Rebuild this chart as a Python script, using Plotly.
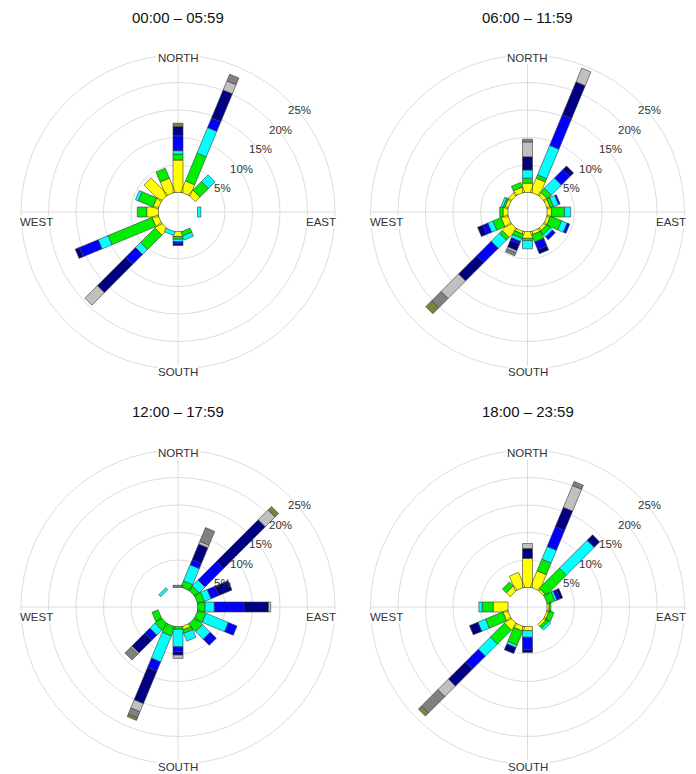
import math
import plotly.graph_objects as go

# The page adds an 8 px body margin, so the figure is drawn 8 px smaller
# and all reference pixel positions are shifted by that margin.
PAGE_MARGIN = 8
W, H = 696 - PAGE_MARGIN, 774 - PAGE_MARGIN

directions = ['N', 'NNE', 'NE', 'ENE', 'E', 'ESE', 'SE', 'SSE',
              'S', 'SSW', 'SW', 'WSW', 'W', 'WNW', 'NW', 'NNW']
dir_angles = [i * 22.5 for i in range(16)]

speed_colors = ['#FFFF00', '#00EE00', '#00FFFF', '#0000FF',
                '#000080', '#C0C0C0', '#808080', '#808040']

titles = ['00:00 \u2013 05:59', '06:00 \u2013 11:59',
          '12:00 \u2013 17:59', '18:00 \u2013 23:59']

ring_values = [5, 10, 15, 20, 25]
ring_labels = ['5%', '10%', '15%', '20%', '25%']

# frequency (%) per direction (rows, N clockwise) and speed bin (columns)
freq_00_06 = [
    [5.9, 1.1, 0.6, 2.7, 1.7, 0.0, 0.0, 0.6],
    [2.2, 5.5, 5.0, 1.9, 5.5, 1.8, 1.3, 0.0],
    [1.2, 2.2, 1.7, 0, 0, 0, 0, 0],
    [0, 0, 0, 0, 0, 0, 0, 0],
    [0, 0, 0.6, 0, 0, 0, 0, 0],
    [0, 0, 0, 0, 0, 0, 0, 0],
    [0, 0, 0, 0, 0, 0, 0, 0],
    [0, 0.8, 0.8, 0, 0, 0, 0, 0],
    [0.9, 0.5, 0.45, 0.4, 0.3, 0, 0, 0],
    [0, 0, 0.7, 0, 0, 0, 0, 0],
    [1.5, 3.7, 1.3, 2.5, 7.3, 3.2, 0, 0],
    [1.2, 8.65, 1.95, 3.7, 0.8, 0, 0, 0],
    [2.15, 1.7, 0, 0, 0, 0, 0, 0],
    [1.0, 2.9, 0.55, 0, 0, 0, 0, 0],
    [4.3, 0, 0, 0, 0, 0, 0, 0],
    [2.75, 1.95, 0, 0, 0, 0, 0, 0],
]

freq_06_12 = [
    [1.7, 0.9, 1.5, 0, 2.4, 2.7, 0.5, 0],
    [2.75, 0.65, 5.8, 6.0, 6.5, 2.7, 0, 0],
    [0.7, 1.0, 2.6, 2.1, 1.0, 0, 0, 0],
    [0.6, 0.6, 1.0, 0.3, 0, 0, 0, 0],
    [0.8, 2.4, 1.1, 0, 0, 0, 0, 0],
    [0.6, 2.2, 1.1, 0.5, 0, 0, 0, 0],
    [0.6, 0.8, 0.6, 0.7, 0, 0, 0, 0],
    [0.6, 1.4, 0, 1.5, 0.8, 0, 0, 0],
    [1.25, 0.4, 1.5, 0, 0, 0, 0, 0],
    [0.5, 0.8, 0.6, 0.5, 1.3, 0.4, 0.6, 0],
    [2.1, 0.7, 2.1, 3.7, 4.7, 4.5, 2.4, 1.5],
    [1.3, 1.6, 1.0, 1.0, 1.0, 0, 0, 0],
    [0.9, 0.6, 0, 0, 0, 0, 0, 0],
    [0.6, 0.3, 0.4, 0, 0, 0, 0, 0],
    [0.7, 0, 0, 0, 0, 0, 0, 0],
    [1.0, 0.9, 0, 0, 0, 0, 0, 0],
]

freq_12_18 = [
    [0, 0, 0, 0, 0, 0, 0.4, 0],
    [0, 1.25, 3.15, 1.0, 3.1, 0.5, 2.7, 0],
    [0, 1.0, 1.5, 4.75, 10.75, 2.5, 0, 0.9],
    [0, 1.3, 1.3, 1.5, 2.6, 0, 0, 0],
    [0, 1.36, 1.7, 5.4, 4.45, 0.4, 0, 0],
    [0, 1.6, 4.4, 1.7, 0, 0, 0, 0],
    [0, 1.9, 1.95, 1.55, 0, 0, 0, 0],
    [0.65, 0.65, 1.5, 0, 0, 0, 0, 0],
    [0, 0.5, 3.2, 0.9, 0.6, 0.6, 0, 0],
    [0, 1.8, 5.1, 1.8, 6.4, 1.6, 1.2, 0.5],
    [0, 1.5, 1.3, 1.3, 3.3, 0.3, 1.5, 0],
    [0, 1.2, 0, 0, 0, 0, 0, 0],
    [0, 0, 0, 0, 0, 0, 0, 0],
    [0, 0, 0, 0, 0, 0, 0, 0],
    [0, 0, 0.5, 0, 0, 0, 0, 0],
    [0, 0, 0, 0, 0, 0, 0, 0],
]

freq_18_24 = [
    [5.3, 0, 0, 0, 1.8, 0.9, 0, 0],
    [3.2, 2.3, 2.5, 3.9, 3.8, 4.3, 0.8, 0],
    [0.4, 5.15, 7.15, 0, 1.4, 0, 0, 0],
    [0, 1.5, 0.4, 0.55, 0.55, 0, 0, 0],
    [0.4, 0.3, 0, 0, 0, 0, 0, 0],
    [0.4, 0.9, 0, 0, 0, 0, 0, 0],
    [0.5, 0.5, 0.5, 0, 0, 0, 0, 0],
    [0, 0, 0, 0, 0, 0, 0, 0],
    [0.76, 0, 1.2, 2.2, 0.55, 0, 0, 0],
    [0.85, 2.75, 0.5, 0, 1.15, 0, 0, 0],
    [1.5, 3.6, 3.1, 3.3, 4.4, 2.7, 4.2, 0.8],
    [0.95, 3.4, 1.5, 0, 1.65, 0, 0, 0],
    [2.7, 2.0, 0.6, 0, 0, 0, 0, 0],
    [0, 0, 0, 0, 0, 0, 0, 0],
    [1.0, 1.0, 0, 0, 0, 0, 0, 0],
    [2.9, 0, 0, 0, 0, 0, 0, 0],
]

panels = [freq_00_06, freq_06_12, freq_12_18, freq_18_24]

# ---- geometry (pixels, page coordinates of the reference) ----
centers_page = [(178, 212), (527.5, 212), (178, 607), (527.5, 607)]
title_top_page = [8, 8, 402, 402]
centers = [(cx - PAGE_MARGIN, cy - PAGE_MARGIN) for cx, cy in centers_page]
title_top = [max(0, t - PAGE_MARGIN) for t in title_top_page]

PX = 5.5            # pixels per percent
HOLE = 19.5         # radius of the empty centre
BAR_HALF_W = 5.0    # half of bar width
R_OUT = HOLE + PX * ring_values[-1]


def rad(v):
    return HOLE + PX * v


fig = go.Figure()
shapes = []
annotations = []
FONT = 'Arial, Liberation Sans, Helvetica, sans-serif'
GRID = '#DCDCDC'

for p, (table, (cx, cy)) in enumerate(zip(panels, centers)):
    k = p + 1
    xa = 'x' if k == 1 else f'x{k}'
    ya = 'y' if k == 1 else f'y{k}'
    xkey = 'xaxis' if k == 1 else f'xaxis{k}'
    ykey = 'yaxis' if k == 1 else f'yaxis{k}'
    hx = min(cx, W - cx, 170)
    hy = min(cy, H - cy, 170)
    fig.layout[xkey] = dict(domain=[(cx - hx) / W, (cx + hx) / W],
                            range=[-hx, hx], visible=False,
                            fixedrange=True, anchor=ya)
    fig.layout[ykey] = dict(domain=[1 - (cy + hy) / H, 1 - (cy - hy) / H],
                            range=[-hy, hy], visible=False,
                            fixedrange=True, anchor=xa)

    # grid rings
    for v in ring_values:
        r = rad(v)
        shapes.append(dict(type='circle', xref=xa, yref=ya, x0=-r, y0=-r,
                           x1=r, y1=r, line=dict(color=GRID, width=1),
                           layer='below'))
    # cross lines
    shapes.append(dict(type='line', xref=xa, yref=ya, x0=0, y0=-R_OUT,
                       x1=0, y1=R_OUT, line=dict(color=GRID, width=1),
                       layer='below'))
    shapes.append(dict(type='line', xref=xa, yref=ya, x0=-R_OUT, y0=0,
                       x1=R_OUT, y1=0, line=dict(color=GRID, width=1),
                       layer='below'))

    # stacked rectangular bars
    for b, color in enumerate(speed_colors):
        xs, ys = [], []
        for d, ang in enumerate(dir_angles):
            row = table[d]
            val = row[b]
            if val <= 0:
                continue
            base = sum(row[:b])
            r0, r1 = rad(base), rad(base + val)
            t = math.radians(ang)
            ux, uy = math.sin(t), math.cos(t)
            nx, ny = math.cos(t), -math.sin(t)
            hw = BAR_HALF_W
            pts = [(r0 * ux + hw * nx, r0 * uy + hw * ny),
                   (r1 * ux + hw * nx, r1 * uy + hw * ny),
                   (r1 * ux - hw * nx, r1 * uy - hw * ny),
                   (r0 * ux - hw * nx, r0 * uy - hw * ny),
                   (r0 * ux + hw * nx, r0 * uy + hw * ny)]
            for px_, py_ in pts:
                xs.append(px_)
                ys.append(py_)
            xs.append(None)
            ys.append(None)
        if xs:
            fig.add_trace(go.Scatter(x=xs, y=ys, xaxis=xa, yaxis=ya,
                                     mode='lines', fill='toself',
                                     fillcolor=color,
                                     line=dict(color='#3a3a3a', width=0.6),
                                     hoverinfo='skip', showlegend=False,
                                     cliponaxis=False))

    # ring labels
    c45 = math.cos(math.radians(45))
    for v, lab in zip(ring_values, ring_labels):
        r = rad(v)
        annotations.append(dict(xref=xa, yref=ya, x=r * c45 + 10.8,
                                y=r * c45 - 9.3, text=lab, showarrow=False,
                                font=dict(family=FONT, size=11.5, color='#333333'),
                                xanchor='center', yanchor='middle'))

    # compass labels
    comp = [('NORTH', 0, 154, 'center'), ('SOUTH', 0, -160, 'center'),
            ('WEST', -R_OUT - 2, -10, 'left'), ('EAST', R_OUT + 2, -10, 'right')]
    for txt, x, y, anc in comp:
        annotations.append(dict(xref=xa, yref=ya, x=x, y=y, text=txt,
                                showarrow=False, bgcolor='white', borderpad=0,
                                font=dict(family=FONT, size=11.5, color='#333333'),
                                xanchor=anc, yanchor='middle'))

    # title
    annotations.append(dict(xref='paper', yref='paper', x=cx / W,
                            y=1 - title_top[p] / H, text=titles[p],
                            showarrow=False, borderpad=0,
                            font=dict(family=FONT, size=15, color='#111111'),
                            xanchor='center', yanchor='top'))

fig.update_layout(width=W, height=H, margin=dict(l=0, r=0, t=0, b=0),
                  paper_bgcolor='white', plot_bgcolor='white',
                  shapes=shapes, annotations=annotations, showlegend=False)

fig.write_html('out.html')
